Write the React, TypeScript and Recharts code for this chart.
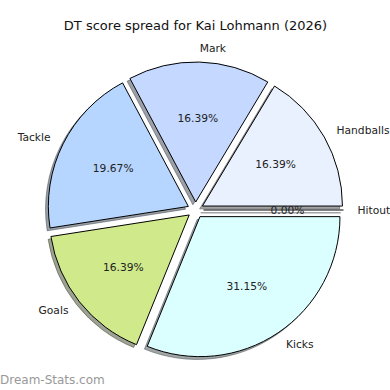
import { Pie, PieChart, Cell, Sector } from "recharts";

const categories = ["Handballs", "Mark", "Tackle", "Goals", "Kicks", "Hitout"];
const scores = [10, 10, 12, 10, 19, 0];
const colors = ["#eaf1fe", "#c5d8ff", "#b6d6ff", "#d0e98b", "#dbfeff", "#eaf1fe"];

const data = categories.map((name, i) => ({ name, value: scores[i] }));

const RAD = Math.PI / 180;
const EXPLODE = 8;
const FONT = "'DejaVu Sans', sans-serif";

function shade(hex: string) {
  const n = parseInt(hex.slice(1), 16);
  const r = Math.round(((n >> 16) & 255) * 0.3);
  const g = Math.round(((n >> 8) & 255) * 0.3);
  const b = Math.round((n & 255) * 0.3);
  return `rgb(${r},${g},${b})`;
}

// draws exploded wedge + shadow + texts (matplotlib style)
function renderWedge(props: any) {
  const { cx, cy, midAngle, outerRadius, startAngle, endAngle, percent, name, index } = props;
  const ex = cx + EXPLODE * Math.cos(-midAngle * RAD);
  const ey = cy + EXPLODE * Math.sin(-midAngle * RAD);
  const color = colors[index];
  const sh = outerRadius * 0.02;
  const ox = ex + outerRadius * Math.cos(-midAngle * RAD);
  const oy = ey + outerRadius * Math.sin(-midAngle * RAD);
  const lx = ex + outerRadius * 1.1 * Math.cos(-midAngle * RAD);
  const ly = ey + outerRadius * 1.1 * Math.sin(-midAngle * RAD);
  const px = ex + outerRadius * 0.6 * Math.cos(-midAngle * RAD);
  const py = ey + outerRadius * 0.6 * Math.sin(-midAngle * RAD);
  const flat = startAngle === endAngle;
  return (
    <g key={`w-${index}`}>
      {flat ? (
        <>
          <line x1={ex - sh} y1={ey + sh} x2={ox - sh} y2={oy + sh} stroke={shade(color)} strokeOpacity={0.5} strokeWidth={1.5} />
          <line x1={ex} y1={ey} x2={ox} y2={oy} stroke="#000" strokeWidth={1} />
        </>
      ) : (
        <>
          <Sector cx={ex - sh} cy={ey + sh} innerRadius={0} outerRadius={outerRadius} startAngle={startAngle} endAngle={endAngle}
            fill={shade(color)} fillOpacity={0.5} stroke={shade(color)} strokeOpacity={0.5} />
          <Sector cx={ex} cy={ey} innerRadius={0} outerRadius={outerRadius} startAngle={startAngle} endAngle={endAngle}
            fill={color} stroke="#000" strokeWidth={1} />
        </>
      )}
      <text x={px} y={py} textAnchor="middle" dominantBaseline="central" fontSize={10.7} fontFamily={FONT} fill="#222">
        {(percent * 100).toFixed(2)}%
      </text>
      <text x={lx} y={ly} textAnchor={lx > ex ? "start" : "end"} dominantBaseline="central" fontSize={10.7} fontFamily={FONT} fill="#222">
        {name}
      </text>
    </g>
  );
}

export default function App() {
  return (
    <div style={{ position: "absolute", left: 0, top: 0, width: 390, height: 390, background: "#fff" }}>
      <PieChart width={390} height={390} margin={{ top: 0, right: 0, bottom: 0, left: 0 }}>
        <text x={195.5} y={25} textAnchor="middle" dominantBaseline="central" fontSize={13} fontFamily={FONT} fill="#111">
          DT score spread for Kai Lohmann (2026)
        </text>
        <Pie
          data={data}
          dataKey="value"
          nameKey="name"
          cx={195.5}
          cy={210}
          outerRadius={140}
          startAngle={0}
          endAngle={360}
          stroke="none"
          label={renderWedge}
          labelLine={false}
          isAnimationActive={false}
        >
          {data.map((d) => (
            <Cell key={d.name} fill="transparent" stroke="none" />
          ))}
        </Pie>
        <text x={0} y={380} dominantBaseline="central" fontSize={12} fontFamily={FONT} fill="#999">
          Dream-Stats.com
        </text>
      </PieChart>
    </div>
  );
}
